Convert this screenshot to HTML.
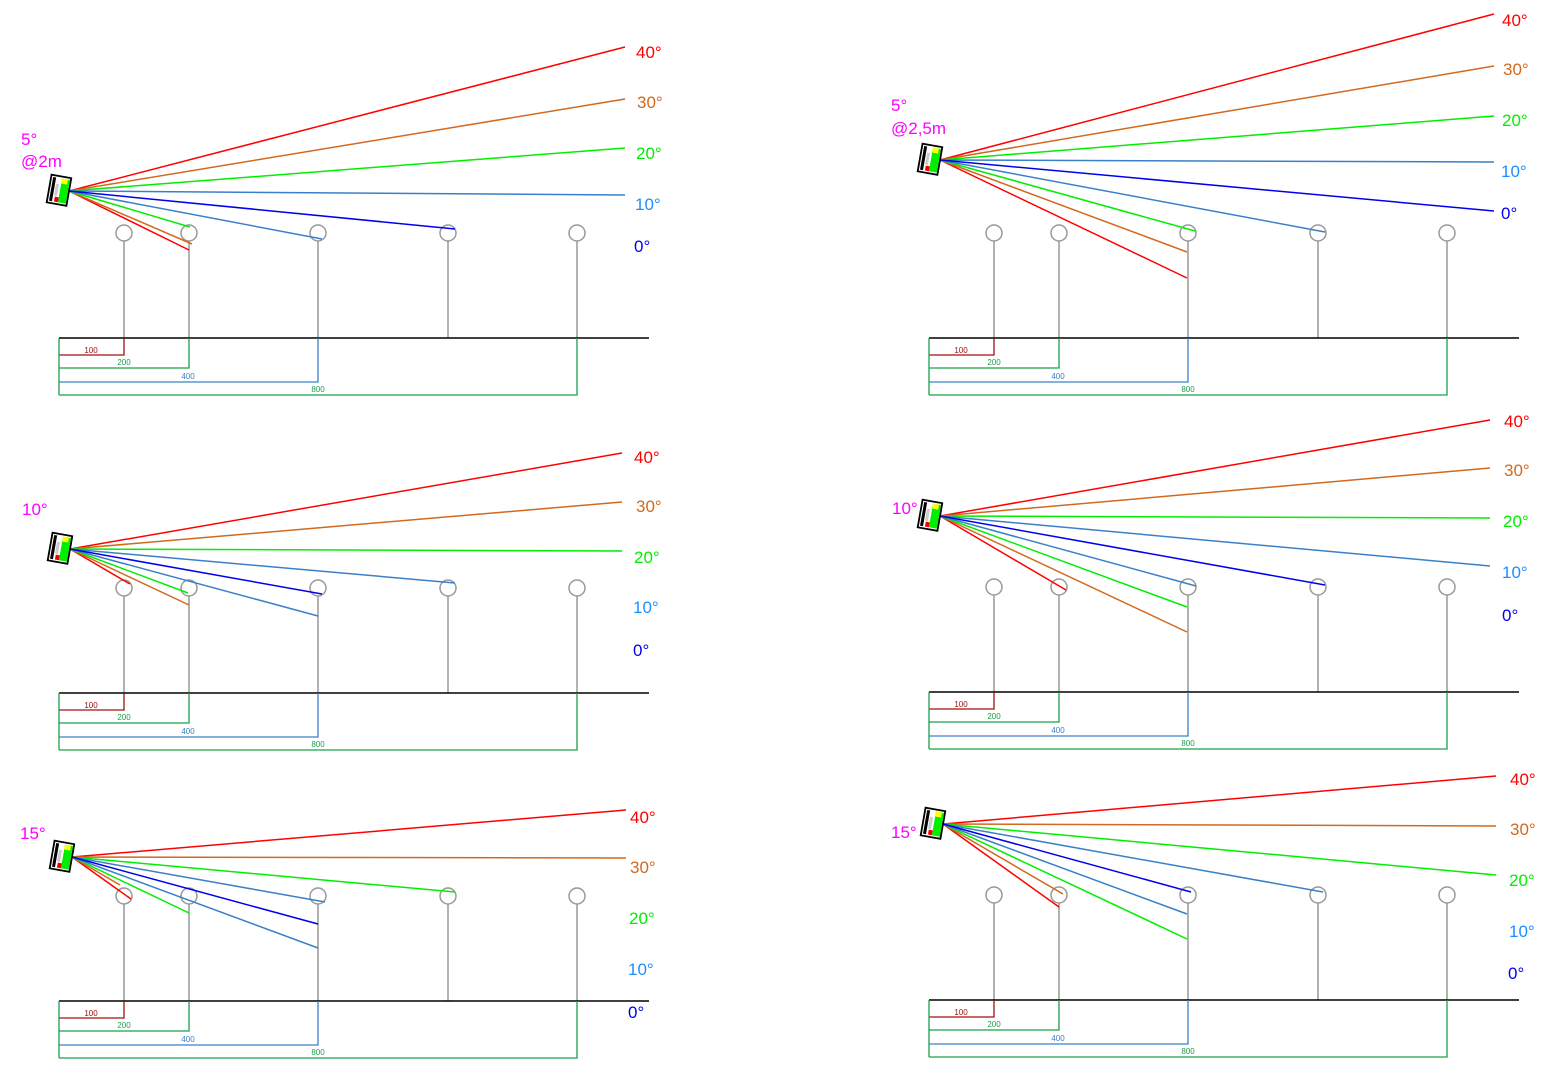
<!DOCTYPE html>
<html><head><meta charset="utf-8"><style>
html,body{margin:0;padding:0;background:#fff;}
svg{display:block;}
text{font-family:"Liberation Sans",Arial,sans-serif;}
.lb{font-size:17px;}
.dm{font-size:8px;text-anchor:middle;}
</style></head><body>
<svg width="1559" height="1080" viewBox="0 0 1559 1080" xmlns="http://www.w3.org/2000/svg">
<defs>
<g id="dev">
<g transform="rotate(10)">
<rect x="-20" y="-13" width="20" height="28" fill="#fff" stroke="#000" stroke-width="1.8"/>
<rect x="-9" y="-11" width="8" height="24" fill="#0e0"/>
<rect x="-9" y="-11" width="6" height="5" fill="#ff0"/>
<rect x="-18" y="-11" width="3" height="24" fill="#000"/>
<rect x="-14" y="-5" width="3" height="12" fill="#ccc"/>
<rect x="-13" y="8" width="4" height="5" fill="#e00"/>
</g>
</g>
<g id="base" fill="none">
<g stroke="#999" stroke-width="1.5">
<circle cx="65" cy="-105" r="8"/><circle cx="130" cy="-105" r="8"/><circle cx="259" cy="-105" r="8"/><circle cx="389" cy="-105" r="8"/><circle cx="518" cy="-105" r="8"/>
<path d="M65-97V0M130-97V0M259-97V0M389-97V0M518-97V0"/>
</g>
<path d="M0 0H590" stroke="#000" stroke-width="1.5"/>
<path d="M0 17H65V0" stroke="#a01010" stroke-width="1.3"/>
<path d="M0 0V57M0 30H130V0" stroke="#1aa04a" stroke-width="1.3"/>
<path d="M0 44H259V0" stroke="#3a80c8" stroke-width="1.3"/>
<path d="M0 57H518V0" stroke="#1aa04a" stroke-width="1.3"/>
<text class="dm" x="32" y="15" fill="#a01010" stroke="none">100</text>
<text class="dm" x="65" y="27" fill="#1aa04a" stroke="none">200</text>
<text class="dm" x="129" y="41" fill="#3a80c8" stroke="none">400</text>
<text class="dm" x="259" y="54" fill="#1aa04a" stroke="none">800</text>
</g>
</defs>

<use href="#base" transform="translate(59,338)"/>
<use href="#base" transform="translate(929,338)"/>
<use href="#base" transform="translate(59,693)"/>
<use href="#base" transform="translate(929,692)"/>
<use href="#base" transform="translate(59,1001)"/>
<use href="#base" transform="translate(929,1000)"/>

<g stroke-width="1.5" fill="none">
<path d="M69 191L625 47M69 191L189 250" stroke="#f00"/>
<path d="M69 191L625 99M69 191L192 244" stroke="#d2691e"/>
<path d="M69 191L625 148M69 191L190 227" stroke="#0e0"/>
<path d="M69 191L625 195M69 191L322 239" stroke="#3a80c8"/>
<path d="M69 191L455 229" stroke="#00e"/>
<path d="M940 160L1494 14M940 160L1187 278" stroke="#f00"/>
<path d="M940 160L1494 66M940 160L1187 252" stroke="#d2691e"/>
<path d="M940 160L1494 116M940 160L1195 231" stroke="#0e0"/>
<path d="M940 160L1494 162M940 160L1325 232" stroke="#3a80c8"/>
<path d="M940 160L1494 211" stroke="#00e"/>
<path d="M70 549L622 453M70 549L130 584" stroke="#f00"/>
<path d="M70 549L622 502M70 549L189 605" stroke="#d2691e"/>
<path d="M70 549L622 551M70 549L188 593" stroke="#0e0"/>
<path d="M70 549L455 583M70 549L318 616" stroke="#3a80c8"/>
<path d="M70 549L322 594" stroke="#00e"/>
<path d="M940 516L1490 420M940 516L1066 590" stroke="#f00"/>
<path d="M940 516L1490 468M940 516L1187 632" stroke="#d2691e"/>
<path d="M940 516L1490 518M940 516L1187 607" stroke="#0e0"/>
<path d="M940 516L1490 566M940 516L1196 586" stroke="#3a80c8"/>
<path d="M940 516L1325 585" stroke="#00e"/>
<path d="M72 857L626 810M72 857L131 899" stroke="#f00"/>
<path d="M72 857L626 858M72 857L120 885" stroke="#d2691e"/>
<path d="M72 857L455 892M72 857L189 913" stroke="#0e0"/>
<path d="M72 857L325 902M72 857L318 948" stroke="#3a80c8"/>
<path d="M72 857L318 924" stroke="#00e"/>
<path d="M943 824L1496 776M943 824L1059 907" stroke="#f00"/>
<path d="M943 824L1496 826M943 824L1063 894" stroke="#d2691e"/>
<path d="M943 824L1496 875M943 824L1187 939" stroke="#0e0"/>
<path d="M943 824L1323 892M943 824L1187 914" stroke="#3a80c8"/>
<path d="M943 824L1191 892" stroke="#00e"/>
</g>

<use href="#dev" transform="translate(69,191)"/>
<use href="#dev" transform="translate(940,160)"/>
<use href="#dev" transform="translate(70,549)"/>
<use href="#dev" transform="translate(940,516)"/>
<use href="#dev" transform="translate(72,857)"/>
<use href="#dev" transform="translate(943,824)"/>

<g class="lb">
<text x="21" y="145" fill="#f0f">5°</text><text x="21" y="167" fill="#f0f">@2m</text>
<text x="891" y="111" fill="#f0f">5°</text><text x="891" y="134" fill="#f0f">@2,5m</text>
<text x="22" y="515" fill="#f0f">10°</text>
<text x="892" y="514" fill="#f0f">10°</text>
<text x="20" y="839" fill="#f0f">15°</text>
<text x="891" y="838" fill="#f0f">15°</text>

<text x="636" y="58" fill="#f00">40°</text><text x="637" y="108" fill="#d2691e">30°</text><text x="636" y="159" fill="#0e0">20°</text><text x="635" y="210" fill="#1e8fff">10°</text><text x="634" y="252" fill="#00e">0°</text>
<text x="1502" y="26" fill="#f00">40°</text><text x="1503" y="75" fill="#d2691e">30°</text><text x="1502" y="126" fill="#0e0">20°</text><text x="1501" y="177" fill="#1e8fff">10°</text><text x="1501" y="219" fill="#00e">0°</text>
<text x="634" y="463" fill="#f00">40°</text><text x="636" y="512" fill="#d2691e">30°</text><text x="634" y="563" fill="#0e0">20°</text><text x="633" y="613" fill="#1e8fff">10°</text><text x="633" y="656" fill="#00e">0°</text>
<text x="1504" y="427" fill="#f00">40°</text><text x="1504" y="476" fill="#d2691e">30°</text><text x="1503" y="527" fill="#0e0">20°</text><text x="1502" y="578" fill="#1e8fff">10°</text><text x="1502" y="621" fill="#00e">0°</text>
<text x="630" y="823" fill="#f00">40°</text><text x="630" y="873" fill="#d2691e">30°</text><text x="629" y="924" fill="#0e0">20°</text><text x="628" y="975" fill="#1e8fff">10°</text><text x="628" y="1018" fill="#00e">0°</text>
<text x="1510" y="785" fill="#f00">40°</text><text x="1510" y="835" fill="#d2691e">30°</text><text x="1509" y="886" fill="#0e0">20°</text><text x="1509" y="937" fill="#1e8fff">10°</text><text x="1508" y="979" fill="#00e">0°</text>
</g>
</svg>
</body></html>
